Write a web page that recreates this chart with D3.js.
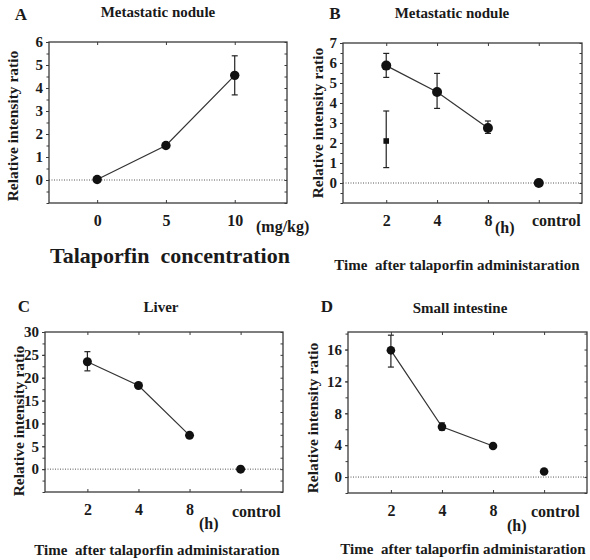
<!DOCTYPE html>
<html lang="en">
<head>
<meta charset="UTF-8">
<title>Talaporfin relative intensity</title>
<style>
  body { margin: 0; background: #fff; }
  .frame { fill: none; stroke: #3a3a3a; stroke-width: 1.3px; }
  .tick line { stroke: #3a3a3a; }
  .domain { display: none; }
  .zero { stroke: #555; stroke-width: 1px; stroke-dasharray: 1,1.5; }
  .curve { fill: none; stroke: #333; stroke-width: 1.2px; }
  .err { stroke: #222; stroke-width: 1.2px; }
</style>
</head>
<body>
<svg width="590" height="560"></svg>
<script src="https://cdnjs.cloudflare.com/ajax/libs/d3/7.8.5/d3.min.js"></script>
<script>
// ---- data ----
var doseA = [0, 5, 10];
var meanA = [0.02, 1.5, 4.55];
var hiA = [null, null, 5.4];
var loA = [null, null, 3.7];

var timeCats = ["2", "4", "8", "control"];

var meanB = [5.87, 4.55, 2.75, 0];
var hiB = [6.48, 5.48, 3.1, null];
var loB = [5.28, 3.73, 2.48, null];
var squareB = [2.1];      // extra marker at 2 h
var squareHiB = [3.6];
var squareLoB = [0.77];

var meanC = [23.5, 18.3, 7.4, 0];
var hiC = [25.7, null, null, null];
var loC = [21.5, null, null, null];

var meanD = [15.9, 6.3, 3.9, 0.7];
var hiD = [17.8, 6.8, null, null];
var loD = [13.8, 5.9, null, null];

var ticksA = [0, 1, 2, 3, 4, 5, 6];
var ticksB = [0, 1, 2, 3, 4, 5, 6, 7];
var ticksC = [0, 5, 10, 15, 20, 25, 30];
var ticksD = [0, 4, 8, 12, 16];

var FONT = "'Liberation Serif', 'Times New Roman', serif";
var svg = d3.select("svg");

function serif(sel, size) {
  sel.style("font-family", FONT).style("font-weight", "bold")
    .style("font-size", size + "px").style("fill", "#1a1a1a");
}

function drawPanel(p) {
  var g = svg.append("g");
  var x = p.x, y = p.y;
  var b = p.box;

  // zero reference line
  g.append("line").attr("class", "zero")
    .attr("x1", b.l).attr("x2", b.r)
    .attr("y1", y(0)).attr("y2", y(0));

  // frame
  g.append("rect").attr("class", "frame")
    .attr("x", b.l).attr("y", b.t)
    .attr("width", b.r - b.l).attr("height", b.b - b.t);

  // left axis: labelled ticks + minor ticks
  g.append("g").attr("transform", "translate(" + b.l + ",0)")
    .call(d3.axisLeft(y).tickValues(p.yticks).tickSize(3).tickPadding(3).tickFormat(d3.format("d")))
    .call(function(s) { serif(s.selectAll("text"), 15); });
  g.append("g").attr("transform", "translate(" + b.l + ",0)")
    .call(d3.axisLeft(y).tickValues(p.minor).tickSize(2.5).tickFormat(""));
  // right axis, inward ticks
  g.append("g").attr("transform", "translate(" + b.r + ",0)")
    .call(d3.axisRight(y).tickValues(p.minor).tickSize(-2.5).tickFormat(""));

  // top and bottom ticks
  var xt = p.xticks;
  g.append("g").attr("transform", "translate(0," + b.t + ")")
    .call(d3.axisTop(x).tickValues(xt).tickSize(-3).tickFormat(""));
  g.append("g").attr("transform", "translate(0," + b.b + ")")
    .call(d3.axisBottom(x).tickValues(xt).tickSize(-3).tickPadding(12)
      .tickFormat(function(d) { return d === "control" ? "" : d; }))
    .call(function(s) { serif(s.selectAll("text"), 16); });

  // connecting line
  var pts = p.mean.map(function(v, i) { return { c: p.cats[i], v: v, hi: p.hi[i], lo: p.lo[i] }; });
  var linePts = pts.slice(0, p.nLine);
  g.append("path").attr("class", "curve")
    .attr("d", d3.line().x(function(d) { return x(d.c); }).y(function(d) { return y(d.v); })(linePts));

  // error bars
  var errs = pts.filter(function(d) { return d.hi != null; });
  if (p.square) {
    p.square.forEach(function(v, i) {
      errs.push({ c: p.cats[0], v: v, hi: p.squareHi[i], lo: p.squareLo[i] });
    });
  }
  errs.forEach(function(d) {
    var cx = x(d.c);
    g.append("line").attr("class", "err").attr("x1", cx).attr("x2", cx).attr("y1", y(d.hi)).attr("y2", y(d.lo));
    g.append("line").attr("class", "err").attr("x1", cx - 3).attr("x2", cx + 3).attr("y1", y(d.hi)).attr("y2", y(d.hi));
    g.append("line").attr("class", "err").attr("x1", cx - 3).attr("x2", cx + 3).attr("y1", y(d.lo)).attr("y2", y(d.lo));
  });

  // points
  g.selectAll("circle.pt").data(pts).join("circle").attr("class", "pt")
    .attr("cx", function(d) { return x(d.c); })
    .attr("cy", function(d) { return y(d.v); })
    .attr("r", p.r).attr("fill", "#111");
  if (p.square) {
    g.selectAll("rect.sq").data(p.square).join("rect").attr("class", "sq")
      .attr("x", x(p.cats[0]) - 2.8).attr("y", function(d) { return y(d) - 2.8; })
      .attr("width", 5.6).attr("height", 5.6).attr("fill", "#111");
  }

  // texts
  g.append("text").attr("x", p.letter[0]).attr("y", p.letter[1]).attr("dy", "0.35em")
    .attr("text-anchor", "middle").call(serif, 17).text(p.letterText);
  g.append("text").attr("x", p.title[0]).attr("y", p.title[1]).attr("dy", "0.35em")
    .attr("text-anchor", "middle").call(serif, 15).text(p.titleText);
  g.append("text").attr("transform", "translate(" + p.ylab[0] + "," + p.ylab[1] + ") rotate(-90)")
    .attr("dy", "0.35em").attr("text-anchor", "middle").call(serif, 15.5)
    .text("Relative intensity ratio");
  g.append("text").attr("x", p.xlab[0]).attr("y", p.xlab[1]).attr("dy", "0.35em")
    .attr("text-anchor", "middle").call(serif, p.xlabSize)
    .style("white-space", "pre").text(p.xlabText);
  p.extra.forEach(function(e) {
    g.append("text").attr("x", e[0]).attr("y", e[1]).attr("dy", "0.35em")
      .call(serif, 16).text(e[2]);
  });
}

function range(a, b, s) { return d3.range(a, b + s / 2, s); }

// A
var boxA = { l: 49, r: 287, t: 42, b: 203 };
drawPanel({
  box: boxA,
  x: d3.scaleLinear().domain([-3.5, 13.8]).range([boxA.l, boxA.r]),
  y: d3.scaleLinear().domain([-1, 6]).range([boxA.b, boxA.t]),
  cats: doseA, xticks: doseA, mean: meanA, hi: hiA, lo: loA, nLine: 3, r: 4.7,
  yticks: ticksA, minor: range(-1, 6, 0.5),
  letter: [21, 14], letterText: "A",
  title: [158, 12], titleText: "Metastatic nodule",
  ylab: [13, 126],
  xlab: [170, 255], xlabSize: 22, xlabText: "Talaporfin  concentration",
  extra: [[256, 226, "(mg/kg)"]]
});

// B
var boxB = { l: 343, r: 582, t: 43, b: 203 };
drawPanel({
  box: boxB,
  x: d3.scalePoint().domain(timeCats).range([boxB.l, boxB.r]).padding(0.85),
  y: d3.scaleLinear().domain([-1, 7]).range([boxB.b, boxB.t]),
  cats: timeCats, xticks: timeCats, mean: meanB, hi: hiB, lo: loB, nLine: 3, r: 5,
  square: squareB, squareHi: squareHiB, squareLo: squareLoB,
  yticks: ticksB, minor: range(-1, 7, 0.5),
  letter: [335, 13], letterText: "B",
  title: [452, 13], titleText: "Metastatic nodule",
  ylab: [318, 123],
  xlab: [457, 265], xlabSize: 15, xlabText: "Time  after talaporfin administaration",
  extra: [[495, 227, "(h)"], [532, 220, "control"]]
});

// C
var boxC = { l: 45, r: 283, t: 332, b: 492 };
drawPanel({
  box: boxC,
  x: d3.scalePoint().domain(timeCats).range([boxC.l, boxC.r]).padding(0.83),
  y: d3.scaleLinear().domain([-5, 30]).range([boxC.b, boxC.t]),
  cats: timeCats, xticks: timeCats, mean: meanC, hi: hiC, lo: loC, nLine: 3, r: 4.5,
  yticks: ticksC, minor: range(-5, 30, 2.5),
  letter: [24, 306], letterText: "C",
  title: [161, 307], titleText: "Liver",
  ylab: [19, 421],
  xlab: [157, 550], xlabSize: 15, xlabText: "Time  after talaporfin administaration",
  extra: [[199, 523, "(h)"], [232, 511, "control"]]
});

// D
var boxD = { l: 348, r: 587, t: 332, b: 493 };
drawPanel({
  box: boxD,
  x: d3.scalePoint().domain(timeCats).range([boxD.l, boxD.r]).padding(0.84),
  y: d3.scaleLinear().domain([-2, 18.2]).range([boxD.b, boxD.t]),
  cats: timeCats, xticks: timeCats, mean: meanD, hi: hiD, lo: loD, nLine: 3, r: 4.3,
  yticks: ticksD, minor: range(-2, 18, 2),
  letter: [327, 306], letterText: "D",
  title: [460, 308], titleText: "Small intestine",
  ylab: [313, 418],
  xlab: [463, 549], xlabSize: 15, xlabText: "Time  after talaporfin administaration",
  extra: [[507, 525, "(h)"], [531, 511, "control"]]
});
</script>
</body>
</html>
